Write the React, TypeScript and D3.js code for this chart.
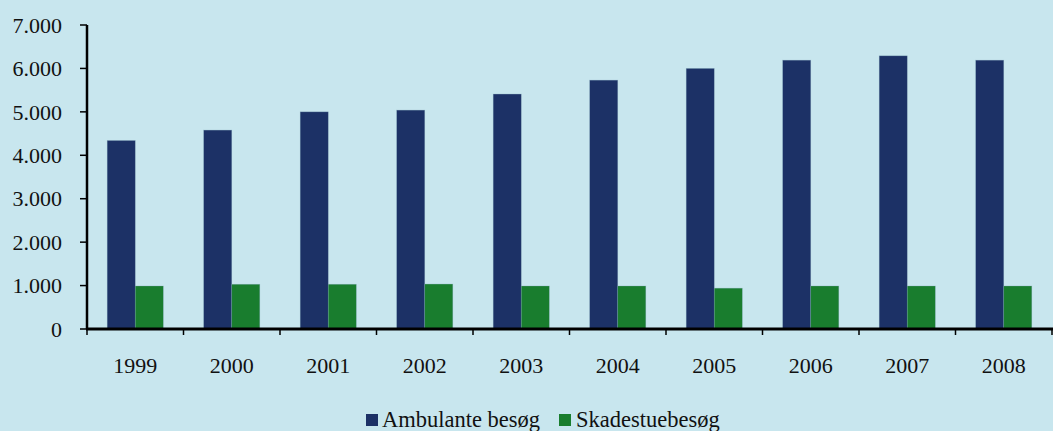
import React, { useEffect } from "react";
import * as d3 from "d3";

const years = ["1999", "2000", "2001", "2002", "2003", "2004", "2005", "2006", "2007", "2008"];
const ambulante = [4340, 4580, 5000, 5040, 5410, 5730, 6000, 6190, 6290, 6190];
const skadestue = [990, 1030, 1030, 1035, 990, 990, 940, 990, 990, 990];
const seriesNames = ["Ambulante besøg", "Skadestuebesøg"];
const seriesColors = ["#1C3166", "#197D2E"];
const yTicks = [0, 1000, 2000, 3000, 4000, 5000, 6000, 7000];

const W = 1053;
const H = 431;
const margin = { left: 87, right: 1, top: 25, bottom: 102 };

const fmt = (v: number) => (v === 0 ? "0" : d3.format(",")(v).replace(/,/g, "."));

export default function App() {
  useEffect(() => {
    document.body.style.margin = "0";
  }, []);

  const x = d3
    .scaleBand<string>()
    .domain(years)
    .range([margin.left, W - margin.right])
    .paddingInner(0)
    .paddingOuter(0);
  const y = d3.scaleLinear().domain([0, 7000]).range([H - margin.bottom, margin.top]);
  const inner = d3.scaleBand<number>().domain([0, 1]).range([0, x.bandwidth()]).paddingOuter(0.72).paddingInner(0);

  const series = [ambulante, skadestue];
  const font = "'Liberation Serif', 'Times New Roman', serif";
  const baseY = y(0);

  return (
    <svg width={W} height={H} style={{ display: "block", fontFamily: font }}>
      <rect x={0} y={0} width={W} height={H} fill="#C8E6EE" />
      {series.map((vals, si) =>
        vals.map((v, i) => (
          <rect
            key={`${si}-${i}`}
            x={(x(years[i]) as number) + (inner(si) as number)}
            y={y(v)}
            width={inner.bandwidth()}
            height={baseY - y(v)}
            fill={seriesColors[si]}
            stroke="#7FA6B8"
            strokeOpacity={0.5}
            strokeWidth={0.6}
          />
        ))
      )}
      {/* y axis */}
      <line x1={margin.left} x2={margin.left} y1={y(7000)} y2={baseY} stroke="#000" strokeWidth={2.5} />
      {yTicks.map((t) => (
        <g key={t}>
          <line x1={margin.left - 7} x2={margin.left} y1={y(t)} y2={y(t)} stroke="#000" strokeWidth={1.5} />
          <text
            x={margin.left - 25}
            y={y(t)}
            dy="0.35em"
            textAnchor="end"
            fontSize={22}
            fill="#111"
          >
            {fmt(t)}
          </text>
        </g>
      ))}
      {/* x axis */}
      <line x1={margin.left - 1} x2={W} y1={baseY} y2={baseY} stroke="#000" strokeWidth={3} />
      {years.map((yr) => (
        <line
          key={`t${yr}`}
          x1={x(yr) as number}
          x2={x(yr) as number}
          y1={baseY}
          y2={baseY + 6}
          stroke="#000"
          strokeWidth={1.5}
        />
      ))}
      <line x1={W - margin.right} x2={W - margin.right} y1={baseY} y2={baseY + 6} stroke="#000" strokeWidth={1.5} />
      {years.map((yr) => (
        <text
          key={`l${yr}`}
          x={(x(yr) as number) + x.bandwidth() / 2}
          y={373}
          textAnchor="middle"
          fontSize={22}
          fill="#111"
        >
          {yr}
        </text>
      ))}
      {/* legend */}
      <g>
        <rect x={366} y={414} width={12} height={12} fill={seriesColors[0]} />
        <text x={382} y={427} fontSize={22.5} fill="#111">
          {seriesNames[0]}
        </text>
        <rect x={559} y={414} width={12} height={12} fill={seriesColors[1]} />
        <text x={576} y={427} fontSize={22.5} fill="#111">
          {seriesNames[1]}
        </text>
      </g>
    </svg>
  );
}
